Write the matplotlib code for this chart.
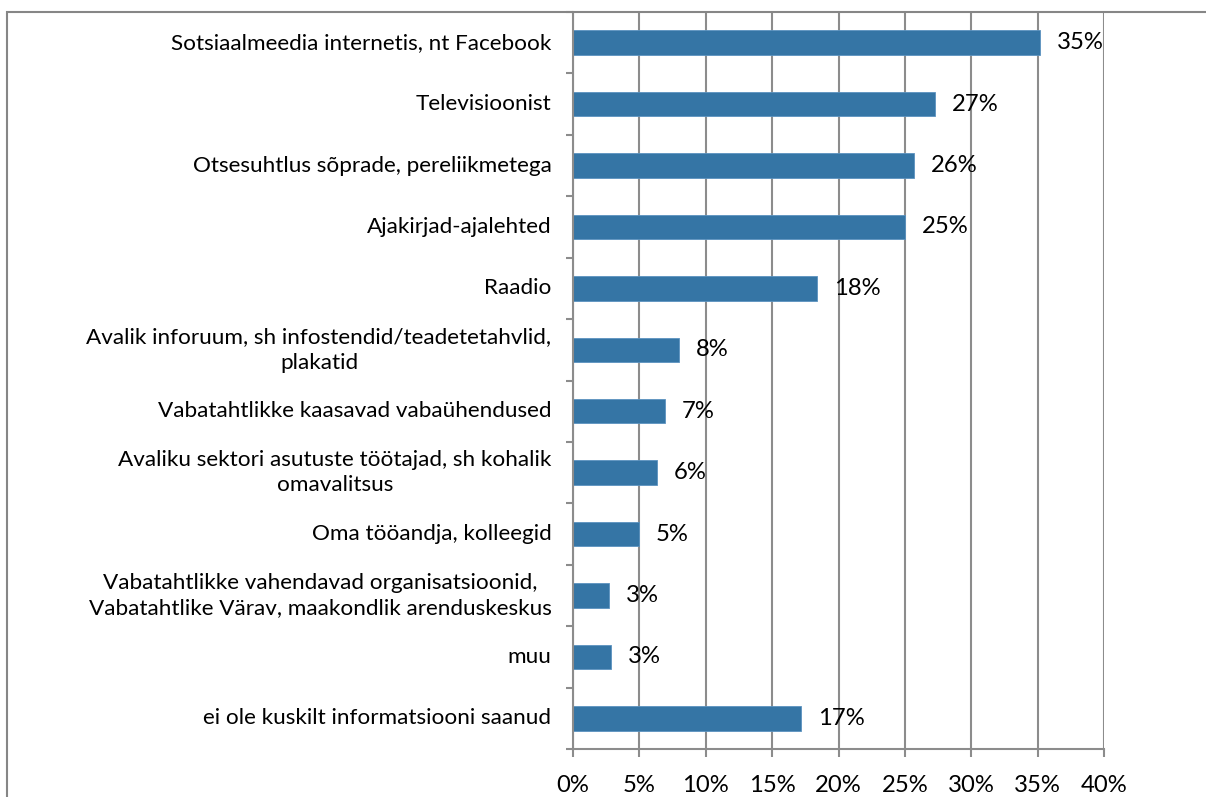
import matplotlib
matplotlib.use("Agg")
import matplotlib.pyplot as plt
from matplotlib.patches import Rectangle
from matplotlib.ticker import FixedLocator

categories = [
    "Sotsiaalmeedia internetis, nt Facebook",
    "Televisioonist",
    "Otsesuhtlus sõprade, pereliikmetega",
    "Ajakirjad-ajalehted",
    "Raadio",
    "Avalik inforuum, sh infostendid/teadetetahvlid,\nplakatid",
    "Vabatahtlikke kaasavad vabaühendused",
    "Avaliku sektori asutuste töötajad, sh kohalik\nomavalitsus",
    "Oma tööandja, kolleegid",
    "Vabatahtlikke vahendavad organisatsioonid,\nVabatahtlike Värav, maakondlik arenduskeskus",
    "muu",
    "ei ole kuskilt informatsiooni saanud",
]
values = [35.2, 27.3, 25.7, 25.0, 18.4, 8.0, 6.9, 6.3, 5.0, 2.7, 2.9, 17.2]
value_labels = ["35%", "27%", "26%", "25%", "18%", "8%", "7%", "6%", "5%", "3%", "3%", "17%"]
xticks = [0, 5, 10, 15, 20, 25, 30, 35, 40]
xtick_labels = ["0%", "5%", "10%", "15%", "20%", "25%", "30%", "35%", "40%"]

FONT = "Lato"
FS = 16.2
FS_NUM = 17.2
W, H = 1206, 797
fig = plt.figure(figsize=(W / 100, H / 100), dpi=100)
fig.patch.set_facecolor("white")

# outer chart border (left & top visible)
fig.add_artist(Rectangle((7 / W, -0.5), 2.0, (H - 12) / H + 0.5, transform=fig.transFigure,
                         fill=False, edgecolor="#868686", linewidth=1.5))

ax = fig.add_axes([573 / W, 48 / H, (1104 - 573) / W, (749 - 12) / H])
n = len(categories)
ypos = list(range(n))
ax.barh(ypos, values, height=0.4, color="#3575A5", edgecolor="#5B92C0", linewidth=0.6, zorder=2)
ax.set_ylim(n - 0.5, -0.5)
ax.set_xlim(0, 40)

ax.set_xticks(xticks)
ax.set_xticklabels(xtick_labels, fontsize=FS_NUM, family=FONT)
ax.set_yticks(ypos)
ax.set_yticklabels([])
ax.yaxis.set_minor_locator(FixedLocator([i - 0.5 for i in range(n + 1)]))

ax.grid(axis="x", color="#8C8C8C", linewidth=1.5, zorder=1)
ax.set_axisbelow(True)
for s in ["top", "right"]:
    ax.spines[s].set_visible(False)
for s in ["left", "bottom"]:
    ax.spines[s].set_color("#8C8C8C")
    ax.spines[s].set_linewidth(1.5)

ax.tick_params(axis="x", which="major", length=6, width=1.5, color="#8C8C8C", pad=13)
ax.tick_params(axis="y", which="major", length=0, pad=0)
ax.tick_params(axis="y", which="minor", length=5, width=1.5, color="#8C8C8C")

for i, c in enumerate(categories):
    ax.annotate(c, (0, i), xytext=(-15.5, 0), textcoords="offset points", ha="right", va="center",
                fontsize=FS, family=FONT, multialignment="center", linespacing=1.35, color="black")

for i, (v, lab) in enumerate(zip(values, value_labels)):
    ax.annotate(lab, (v, i), xytext=(12, 0), textcoords="offset points", ha="left", va="center",
                fontsize=FS_NUM, family=FONT, color="black", zorder=3)

fig.savefig("out.png", dpi=100, facecolor="white")
